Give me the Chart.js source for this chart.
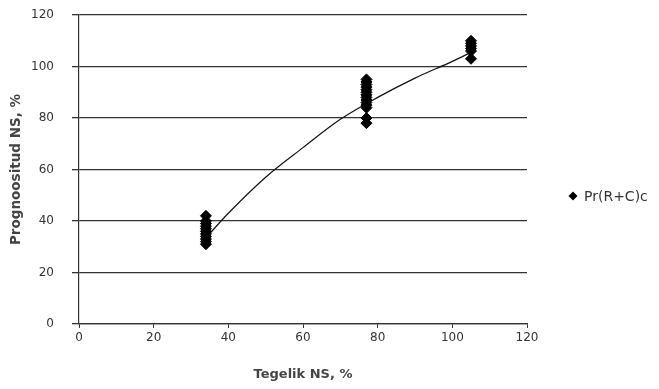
<!DOCTYPE html>
<html>
<head>
<meta charset="utf-8">
<script src="https://cdn.jsdelivr.net/npm/chart.js@4"></script>
<style>
  html, body { margin: 0; padding: 0; background: #fff; }
  #wrap { width: 659px; height: 389px; }
</style>
</head>
<body>
<div id="wrap"><canvas id="scatterGraph" width="659" height="389"></canvas></div>
<script>
const xGroup1 = 34;
const yGroup1 = [42, 40, 39, 38, 37, 36, 35, 34, 33, 32, 31];
const xGroup2 = 77;
const yGroup2 = [95, 94, 93, 92, 91, 90, 89, 88, 87, 86, 85, 84, 80, 78];
const xGroup3 = 105;
const yGroup3 = [110, 109, 108, 107, 106, 103];

// trend line
const trendX = [34, 40, 50, 60, 70, 80, 90, 100, 105];
const trendY = [33.5, 43, 57, 68.5, 79.5, 88, 95.5, 102, 105.5];

const yTicks = [0, 20, 40, 60, 80, 100, 120];
const xTicks = [0, 20, 40, 60, 80, 100, 120];

const points = [];
yGroup1.forEach((y) => points.push({ x: xGroup1, y: y }));
yGroup2.forEach((y) => points.push({ x: xGroup2, y: y }));
yGroup3.forEach((y) => points.push({ x: xGroup3, y: y }));

const trend = trendX.map((x, i) => ({ x: x, y: trendY[i] }));

const tickFont = { family: "DejaVu Sans", size: 12 };

// legend sits off-centre in the original, so draw it by hand
const sideLegend = {
  id: "sideLegend",
  afterDraw(chart) {
    const c = chart.ctx;
    const ds = chart.data.datasets[0];
    const x = 573;
    const y = 196;
    c.save();
    c.fillStyle = "#000";
    c.beginPath();
    c.moveTo(x, y - 4.5);
    c.lineTo(x + 4.5, y);
    c.lineTo(x, y + 4.5);
    c.lineTo(x - 4.5, y);
    c.closePath();
    c.fill();
    c.fillStyle = "#333";
    c.font = "14px 'DejaVu Sans'";
    c.textBaseline = "middle";
    c.fillText(ds.label, x + 11, y + 1);
    c.restore();
  },
};

const scatter = document.getElementById("scatterGraph").getContext("2d");
const myScatter = new Chart(scatter, {
  type: "scatter",
  data: {
    datasets: [
      {
        label: "Pr(R+C)c",
        data: points,
        backgroundColor: "#000",
        borderColor: "#000",
        pointStyle: "rectRot",
        pointRadius: 5.5,
        order: 1,
      },
      {
        label: "trend",
        data: trend,
        showLine: true,
        cubicInterpolationMode: "monotone",
        borderColor: "#111",
        borderWidth: 1.2,
        pointRadius: 0,
        order: 2,
      },
    ],
  },
  options: {
    responsive: false,
    animation: false,
    devicePixelRatio: 1,
    layout: {
      padding: { top: 0, right: 132, left: 8, bottom: 7 },
    },
    plugins: {
      tooltip: { enabled: false },
      legend: { display: false },
    },
    scales: {
      x: {
        min: 0,
        max: 120,
        afterBuildTicks: (axis) => {
          axis.ticks = xTicks.map((v) => ({ value: v }));
        },
        ticks: { color: "#333", font: tickFont, padding: 3 },
        grid: {
          drawOnChartArea: false,
          drawTicks: true,
          tickLength: 4,
          color: "#333",
        },
        border: { display: true, color: "#333", width: 1.3 },
        title: {
          display: true,
          text: "Tegelik NS, %",
          color: "#444",
          font: { family: "DejaVu Sans", size: 13, weight: "bold" },
          padding: { top: 18, bottom: 0 },
        },
      },
      y: {
        min: 0,
        max: 120,
        afterBuildTicks: (axis) => {
          axis.ticks = yTicks.map((v) => ({ value: v }));
        },
        afterFit: (axis) => {
          axis.width = 71;
          axis.paddingTop = 15;
        },
        ticks: { color: "#333", font: tickFont, padding: 18 },
        grid: {
          color: "#333",
          lineWidth: 1.3,
          tickLength: 7,
        },
        border: { display: true, color: "#333", width: 1.2 },
        title: {
          display: true,
          text: "Prognoositud NS, %",
          color: "#444",
          font: { family: "DejaVu Sans", size: 13.5, weight: "bold" },
          padding: { top: 0, bottom: 0 },
        },
      },
    },
  },
  plugins: [sideLegend],
});
</script>
</body>
</html>
